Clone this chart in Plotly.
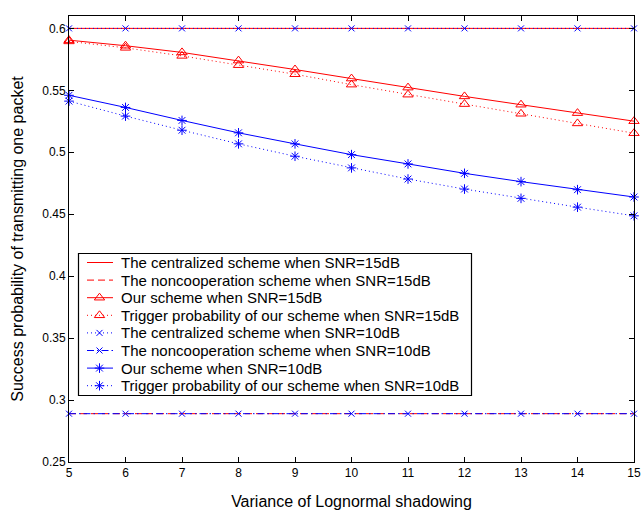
import plotly.graph_objects as go

# ---------------- data ----------------
variance = [5, 6, 7, 8, 9, 10, 11, 12, 13, 14, 15]

central_15 = [0.6] * 11
noncoop_15 = [0.289] * 11
ours_15 = [0.5905, 0.586, 0.5806, 0.574, 0.5668, 0.5595, 0.5522, 0.5451, 0.5384, 0.5316, 0.5251]
trigger_15 = [0.5895, 0.5843, 0.5778, 0.5703, 0.563, 0.5546, 0.5465, 0.5389, 0.5311, 0.5233, 0.5154]
central_10 = [0.6] * 11
noncoop_10 = [0.289] * 11
ours_10 = [0.546, 0.5362, 0.5257, 0.5157, 0.5068, 0.4981, 0.4906, 0.483, 0.4763, 0.4698, 0.4639]
trigger_10 = [0.5413, 0.5292, 0.5178, 0.5068, 0.4968, 0.4874, 0.4784, 0.4703, 0.4628, 0.4557, 0.4487]

y_ticks = [0.25, 0.3, 0.35, 0.4, 0.45, 0.5, 0.55, 0.6]
y_tick_labels = ["0.25", "0.3", "0.35", "0.4", "0.45", "0.5", "0.55", "0.6"]

names = [
    "The centralized scheme when SNR=15dB",
    "The noncooperation scheme when SNR=15dB",
    "Our scheme when SNR=15dB",
    "Trigger probability of our scheme when SNR=15dB",
    "The centralized scheme when SNR=10dB",
    "The noncooperation scheme when SNR=10dB",
    "Our scheme when SNR=10dB",
    "Trigger probability of our scheme when SNR=10dB",
]

# ---------------- styles ----------------
RED = "#ff0000"
BLUE = "#0000ff"
FONT = "Liberation Sans, Arial, Helvetica, sans-serif"
DOT = "1px,3px"
DASH = "7px,4px"
DASHDOT = "7px,3px,1.5px,3px"

series = [
    (central_15, RED, "solid", None, 0),
    (noncoop_15, RED, DASH, None, 0),
    (ours_15, RED, "solid", "triangle-up-open", 9),
    (trigger_15, RED, DOT, "triangle-up-open", 9),
    (central_10, BLUE, DOT, "x-thin-open", 6),
    (noncoop_10, BLUE, DASHDOT, "x-thin-open", 6),
    (ours_10, BLUE, "solid", "asterisk-open", 8),
    (trigger_10, BLUE, DOT, "asterisk-open", 8),
]

fig = go.Figure()

for (y, color, dash, symbol, size), name in zip(series, names):
    marker = dict(color=color, size=size, line=dict(color=color, width=1))
    if symbol:
        marker["symbol"] = symbol
    fig.add_trace(go.Scatter(
        x=variance, y=y, name=name,
        mode="lines+markers" if symbol else "lines",
        line=dict(color=color, width=1, dash=dash),
        marker=marker, cliponaxis=False, showlegend=False,
    ))

# ---------------- hand-drawn MATLAB-style legend (overlay axes in pixel units) ----------------
PLOT_L, PLOT_R, PLOT_T, PLOT_B = 69, 634, 16, 462
BOX = dict(x0=78.5, x1=471.5, y0=253.5, y1=395.5)
ROW0, ROW_STEP = 262.5, 17.6
SAMPLE_X0, SAMPLE_X1, SAMPLE_MID, TEXT_X = 87, 113, 99.5, 119

for i, ((y, color, dash, symbol, size), name) in enumerate(zip(series, names)):
    ry = ROW0 + i * ROW_STEP
    fig.add_trace(go.Scatter(
        x=[SAMPLE_X0, SAMPLE_X1], y=[ry, ry], mode="lines",
        line=dict(color=color, width=1, dash=dash),
        xaxis="x2", yaxis="y2", showlegend=False, hoverinfo="skip", cliponaxis=False,
    ))
    if symbol:
        fig.add_trace(go.Scatter(
            x=[SAMPLE_MID], y=[ry], mode="markers",
            marker=dict(color=color, size=size, symbol=symbol, line=dict(color=color, width=1)),
            xaxis="x2", yaxis="y2", showlegend=False, hoverinfo="skip", cliponaxis=False,
        ))
    fig.add_annotation(
        x=TEXT_X, y=ry, xref="x2", yref="y2", text=name, showarrow=False,
        xanchor="left", yanchor="middle", font=dict(family=FONT, size=15, color="black"),
    )

fig.add_shape(type="rect", xref="x2", yref="y2", layer="above",
              line=dict(color="black", width=1.2), fillcolor="rgba(0,0,0,0)", **BOX)

axis_common = dict(
    showgrid=False, zeroline=False, showline=True, linecolor="black", linewidth=1,
    mirror="allticks", ticks="inside", ticklen=5, tickcolor="black", automargin=False,
    ticklabeloverflow="allow",
    tickfont=dict(family=FONT, size=12, color="black"),
)

fig.update_layout(
    width=641, height=510,
    margin=dict(l=PLOT_L, r=641 - PLOT_R, t=PLOT_T, b=510 - PLOT_B),
    paper_bgcolor="white", plot_bgcolor="white",
    font=dict(family=FONT, color="black"),
    showlegend=False,
    xaxis=dict(range=[5, 15], tickmode="array", tickvals=variance,
               title=dict(text="Variance of Lognormal shadowing",
                          font=dict(family=FONT, size=16, color="black"), standoff=16),
               **axis_common),
    yaxis=dict(range=[0.25, 0.61], tickmode="array", tickvals=y_ticks, ticktext=y_tick_labels,
               title=dict(text="Success probability of transmitting one packet",
                          font=dict(family=FONT, size=16, color="black"), standoff=14),
               **axis_common),
    xaxis2=dict(overlaying="x", range=[PLOT_L, PLOT_R], visible=False, fixedrange=True),
    yaxis2=dict(overlaying="y", range=[PLOT_B, PLOT_T], visible=False, fixedrange=True),
)

fig.write_html("out.html", config={"displayModeBar": False},
               post_script="document.body.style.margin='0';")
